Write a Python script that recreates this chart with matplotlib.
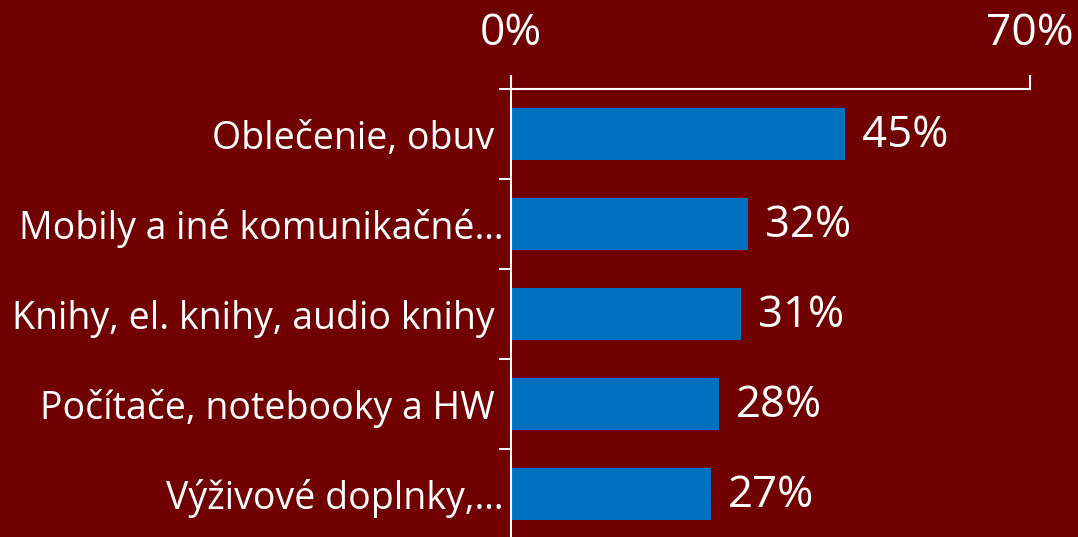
import matplotlib
matplotlib.use("Agg")
from matplotlib import pyplot as plt

categories = [
    "Oblečenie, obuv ",
    "Mobily a iné komunikačné…",
    "Knihy, el. knihy, audio knihy ",
    "Počítače, notebooky a HW ",
    "Výživové doplnky,…",
]
values = [45, 32, 31, 28, 27]
x_ticks = [0, 70]
x_tick_labels = ["0%", "70%"]

BG = "#710000"
BAR = "#0070C0"
FG = "white"

plt.rcParams['font.family'] = ['Open Sans', 'DejaVu Sans']

fig = plt.figure(figsize=(10.78, 5.37), dpi=100, facecolor=BG)
ax = fig.add_axes([511 / 1078, -2 / 537, 519 / 1078, 450 / 537])
ax.set_facecolor(BG)

pos = list(range(len(categories)))
ax.barh(pos, values, height=0.57, color=BAR, zorder=2)

for p, v in zip(pos, values):
    ax.text(v + 2.3, p + 0.02, f"{v}%", color=FG, fontsize=31.5,
            va="center", ha="left")

ax.set_xlim(0, 70)
ax.set_ylim(4.5, -0.5)

ax.xaxis.tick_top()
ax.set_xticks(x_ticks)
ax.set_xticklabels(x_tick_labels, fontsize=32, color=FG)
ax.tick_params(axis="x", length=10, width=1.5, color=FG, pad=14)

ax.set_yticks([p - 0.5 for p in pos] + [4.5])
ax.set_yticklabels([])
ax.set_yticks(pos, minor=True)
ax.set_yticklabels(categories, minor=True, fontsize=27, color=FG)
ax.tick_params(axis="y", which="major", length=8.6, width=1.5, color=FG)
ax.tick_params(axis="y", which="minor", length=0, pad=5)

for side in ["right", "bottom"]:
    ax.spines[side].set_visible(False)
for side in ["top", "left"]:
    ax.spines[side].set_color(FG)
    ax.spines[side].set_linewidth(1.5)

fig.savefig("out.png", dpi=100, facecolor=BG)
